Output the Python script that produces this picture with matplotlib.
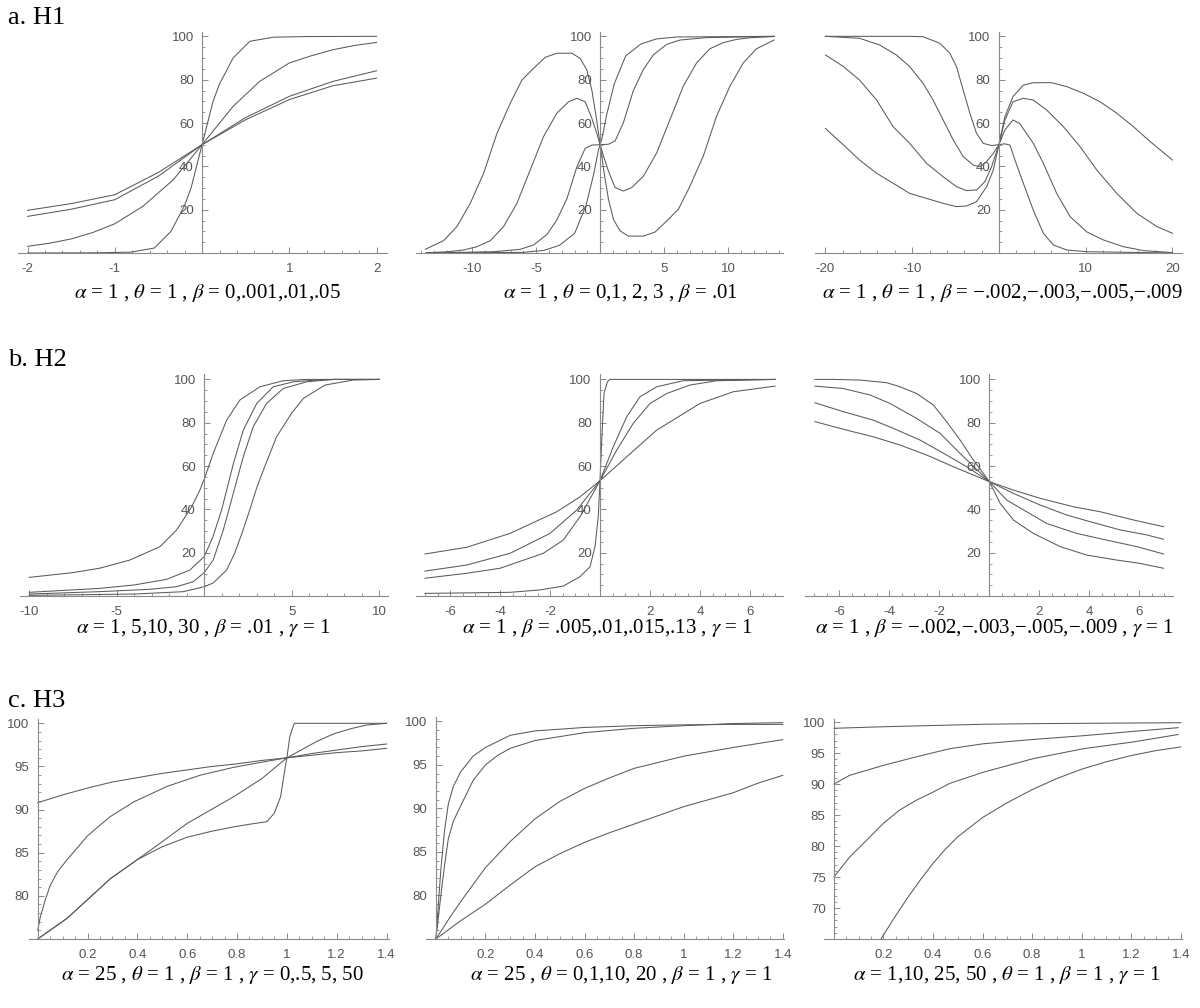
import numpy as np
import matplotlib
matplotlib.use("Agg")
import matplotlib.pyplot as plt
from matplotlib.ticker import FixedLocator, FuncFormatter

plt.rcParams['font.family'] = ['Liberation Sans', 'DejaVu Sans']
plt.rcParams['mathtext.fontset'] = 'stix'

W, H = 1200, 1008

# ---- a. H1 ----
a1_x = [[-2, -1.2, -0.815, -0.547, -0.356, -0.2, -0.126, 0, 0.126, 0.2, 0.356, 0.547, 0.815, 1.2, 2],
        [-2, -1.75, -1.5, -1.25, -1, -0.68, -0.33, 0, 0.356, 0.66, 1.0, 1.25, 1.5, 1.75, 2],
        [-2, -1.5, -1, -0.5, 0, 0.5, 1, 1.5, 2],
        [-2, -1.5, -1, -0.5, 0, 0.5, 1, 1.5, 2]]
a1_y = [[0, 0.1, 0.4, 2.3, 10, 22, 30, 50, 70, 78, 90, 97.7, 99.6, 99.9, 100],
        [3.1, 4.5, 6.5, 9.5, 13.5, 21.5, 33.8, 50, 67.7, 79.2, 87.7, 91, 93.8, 95.8, 97.2],
        [16.9, 20.2, 24.6, 35.5, 50, 62.5, 72.3, 79.2, 84.1],
        [19.7, 22.8, 26.9, 37.2, 50, 61.5, 70.8, 77.2, 80.7]]

a2_x = [[-13.67, -12.24, -11.2, -10.16, -9.11, -8.07, -7.03, -6.12, -5.21, -4.3, -3.39, -2.21, -1.56,
         -1.04, -0.65, -0.31, 0, 0.31, 0.65, 1.04, 1.56, 2.21, 3.39, 4.3, 5.21, 6.12, 7.03, 8.07, 9.11,
         10.16, 11.2, 12.24, 13.6],
        [-13.6, -11.85, -10.68, -9.64, -8.59, -7.55, -6.51, -5.47, -4.43, -3.39, -2.47, -1.82, -1.17,
         -0.65, -0.26, 0, 0.26, 0.65, 1.17, 1.82, 2.47, 3.39, 4.43, 5.47, 6.51, 7.55, 8.59, 9.64, 10.68,
         11.85, 13.6],
        [-13.6, -8.33, -6.25, -5.21, -4.17, -3.39, -2.6, -1.82, -1.17, -0.65, 0, 0.65, 1.17, 1.82, 2.6,
         3.39, 4.17, 5.21, 6.25, 8.33, 13.6],
        [-13.6, -6, -4.4, -3.2, -2.0, -1.1, -0.52, -0.13, 0, 0.13, 0.52, 1.1, 2.0, 3.2, 4.4, 6, 13.6]]
a2_y = [[1.7, 5.7, 12.2, 22.9, 36.8, 55.2, 69.1, 79.8, 85.2, 90.3, 92.2, 92.2, 89.8, 84.5, 75.2, 62.9,
         50, 37.1, 24.8, 15.5, 10.2, 7.8, 7.8, 9.7, 14.8, 20.2, 30.9, 44.8, 63.2, 77.1, 87.8, 94.3, 98.3],
        [0.1, 0.6, 1.4, 2.9, 5.7, 12.2, 22.9, 38.3, 53.7, 64.5, 69.8, 71.4, 69.8, 62.2, 55.2, 50, 44.8,
         37.8, 30.2, 28.6, 30.2, 35.5, 46.3, 61.7, 77.1, 87.8, 94.3, 97.1, 98.6, 99.4, 99.9],
        [0, 0.6, 1.7, 3.7, 8.5, 15.2, 25, 39.8, 48.3, 49.8, 50, 50.2, 51.7, 60.2, 75, 84.8, 91.5, 96.3,
         98.3, 99.4, 100],
        [0, 0.3, 1.2, 3.5, 9, 22, 36, 47.5, 50, 52.5, 64, 78, 91, 96.5, 98.8, 99.7, 100]]

a3_x = [[-20, -10.3, -8.74, -6.8, -5.66, -4.89, -4.12, -3.35, -2.58, -1.81, -0.85, 0, 0.65, 1.27,
         1.85, 2.81, 3.96, 5.12, 6.27, 7.81, 10.1, 20],
        [-20, -16.06, -13.75, -11.82, -10.28, -8.74, -7.59, -6.43, -5.27, -4.12, -2.96, -2.19, -1.42,
         -0.65, 0, 0.69, 1.62, 2.39, 3.96, 5.12, 6.66, 8.2, 10.1, 12.05, 14.36, 16.67, 20],
        [-20, -17.9, -16.06, -14.1, -12.2, -10.28, -8.35, -6.43, -4.89, -3.73, -2.58, -1.62, -0.85, 0,
         0.69, 1.62, 2.81, 3.96, 5.5, 7.43, 9.35, 11.28, 13.59, 15.9, 18.2, 20],
        [-20, -17.9, -16.06, -14.1, -12.2, -10.28, -8.35, -6.43, -4.89, -3.73, -2.58, -1.42, -0.65, 0,
         0.69, 1.62, 2.81, 3.96, 6.08, 7.81, 9.74, 11.66, 13.59, 15.5, 17.44, 20]]
a3_y = [[100, 100, 99.8, 96.8, 92.2, 86, 75.2, 64.5, 55.2, 50.6, 49.6, 50, 50.4, 49.8, 42.9, 32.2,
         19.8, 9.1, 3.7, 1.4, 0.6, 0],
        [100, 99.1, 96, 91.4, 86, 78.3, 70.6, 61.4, 52.2, 44.5, 40.6, 39.8, 42.2, 46, 50, 56.8, 61.4,
         59.8, 50.6, 41.4, 27.5, 16.8, 9.8, 6, 2.9, 1.1, 0.2],
        [91.4, 86, 79.8, 70.6, 58.3, 50.6, 41.4, 35.2, 30.6, 28.8, 29.1, 32.9, 39.8, 50, 61.4, 69.8,
         71.4, 70.6, 66, 58.3, 49.1, 38.3, 27.5, 18.3, 12.2, 9.1],
        [57.5, 49.8, 42.9, 36.8, 32.2, 27.5, 25.2, 22.9, 21.4, 21.7, 23.7, 30.6, 38.3, 50, 62.9, 72.2,
         77.5, 78.6, 78.6, 76.8, 73.7, 69.8, 64.5, 58.3, 51.4, 42.9]]

# ---- b. H2 ----
b1_x = [[-10, -7.5, -6, -4.25, -2.53, -1.58, -0.72, -0.25, 0, 0.51, 1.28, 2.04, 3.18, 4.51, 5.85, 10],
        [-10, -6, -4, -2.15, -0.82, 0, 0.5, 1.0, 1.66, 2.23, 3.0, 3.94, 5.1, 6.4, 7.4, 10],
        [-10, -6, -3.1, -1.58, -0.63, 0, 0.51, 1.09, 1.66, 2.23, 2.8, 3.56, 4.51, 5.85, 7.4, 10],
        [-10, -4, -1.2, 0, 0.51, 1.28, 1.75, 2.2, 2.61, 3.0, 3.37, 4.13, 5, 5.66, 6.9, 8.5, 10]]
b1_y = [[8.6, 10.8, 12.8, 16.6, 22.8, 30.5, 41.2, 48.9, 54, 65.8, 81.2, 90.5, 96.6, 99.4, 100, 100],
        [1.7, 3.5, 5.1, 7.7, 12, 18.2, 27.4, 40, 61, 76.6, 88.9, 96.6, 98.9, 99.7, 100, 100],
        [0.9, 2, 3.1, 4.3, 6.6, 10.8, 16.6, 30.5, 47.4, 64.3, 78.2, 88.9, 95.8, 98.9, 100, 100],
        [0.3, 0.9, 2, 4.3, 6, 12, 20, 30, 40, 50, 58, 73.5, 84.5, 91.2, 97.4, 99.7, 100]]

b2_x = [[-7, -3.6, -2.4, -1.47, -0.8, -0.4, -0.2, -0.07, 0, 0.07, 0.16, 0.3, 0.4, 7],
        [-7, -5.33, -3.6, -1.73, -0.8, 0, 1.07, 2.27, 4, 5.33, 7],
        [-7, -5.33, -3.6, -2, -0.93, 0, 0.67, 1.33, 2, 2.67, 3.6, 4.67, 7],
        [-7, -5.33, -4, -2.27, -1.47, -0.8, 0, 0.53, 1.07, 1.6, 2.27, 3.33, 7]]
b2_y = [[1.2, 1.7, 2.8, 4.6, 8.9, 13.5, 22.8, 36.6, 53.2, 72, 93.5, 99, 100, 100],
        [19.4, 22.5, 28.9, 38.9, 45.8, 53.2, 64.3, 76.6, 88.9, 94.3, 96.9],
        [11.5, 14.3, 19.7, 28.9, 39.7, 53.2, 67.4, 79.7, 88.9, 93.5, 97.4, 99.4, 100],
        [8.2, 10.5, 12.8, 19.7, 25.8, 36.6, 53.2, 68.9, 82.8, 92, 96.6, 99.4, 100]]

b3_x = [[-6.97, -6.24, -5.17, -4.11, -3.57, -2.91, -2.24, -1.71, -1.17, -0.64, 0, 0.43, 0.96, 1.76,
         2.83, 3.89, 5.09, 6, 6.96],
        [-6.97, -5.84, -4.77, -3.97, -2.91, -1.97, -1.17, 0, 0.69, 1.49, 2.29, 3.49, 4.69, 5.89, 6.96],
        [-6.97, -5.84, -4.64, -3.84, -2.77, -1.71, -0.91, 0, 0.96, 2.03, 3.09, 4.03, 5.23, 6.29, 6.96],
        [-6.97, -5.71, -4.64, -3.57, -2.51, -1.44, 0, 0.96, 2.03, 3.36, 4.43, 5.76, 6.96]]
b3_y = [[100, 100, 99.7, 98.5, 96.6, 93.5, 88.2, 80.5, 72, 62.8, 52.8, 42.8, 35.1, 28.9, 22.8, 18.9,
         16.6, 15.1, 12.8],
        [96.9, 95.8, 92.8, 88.9, 82, 75.1, 65.8, 52.8, 44.3, 38.9, 33.5, 28.9, 25.8, 22.8, 19.4],
        [89.2, 85.1, 81.2, 77.4, 72, 65.1, 59.7, 52.8, 47.4, 42, 37.4, 34.3, 30.5, 28.2, 26.2],
        [80.5, 76.6, 73.5, 69.7, 65.1, 59.7, 52.8, 48.9, 45.1, 41.2, 38.9, 35.1, 32]]

# ---- c. H3 ----
c1_x = [[0, 0.118, 0.292, 0.453, 0.6, 0.787, 0.9, 1.0, 1.12, 1.19, 1.26, 1.32, 1.4],
        [0, 0.1, 0.2, 0.3, 0.4, 0.5, 0.6, 0.7, 0.8, 0.9, 1.0, 1.1, 1.2, 1.3, 1.4],
        [0, 0.01, 0.03, 0.05, 0.08, 0.118, 0.16, 0.198, 0.25, 0.292, 0.386, 0.52, 0.654, 0.787, 0.9,
         1.0, 1.1, 1.2, 1.3, 1.4],
        [0, 0.118, 0.292, 0.4, 0.5, 0.6, 0.7, 0.787, 0.85, 0.92, 0.95, 0.975, 0.99, 1.0, 1.012, 1.03, 1.4]]
c1_y = [[75, 77.4, 82, 85.3, 88.4, 91.5, 93.6, 96.0, 97.9, 98.8, 99.4, 99.8, 100],
        [90.8, 91.7, 92.5, 93.2, 93.7, 94.2, 94.6, 95.0, 95.3, 95.7, 96.0, 96.3, 96.6, 96.8, 97.1],
        [76, 77.5, 79.5, 81.2, 82.8, 84.2, 85.6, 86.9, 88.2, 89.2, 90.9, 92.7, 94.0, 94.9, 95.5, 96.0,
         96.5, 96.9, 97.3, 97.6],
        [75, 77.4, 82, 84.2, 85.7, 86.8, 87.5, 88.0, 88.3, 88.6, 89.6, 91.5, 94.3, 96.0, 98.5, 100, 100]]

c2_x = [[0, 0.01, 0.02, 0.035, 0.05, 0.07, 0.1, 0.15, 0.2, 0.3, 0.4, 0.6, 0.8, 1.0, 1.2, 1.4],
        [0, 0.01, 0.02, 0.035, 0.05, 0.07, 0.1, 0.15, 0.2, 0.25, 0.3, 0.4, 0.6, 0.8, 1.0, 1.2, 1.4],
        [0, 0.05, 0.1, 0.2, 0.3, 0.4, 0.5, 0.6, 0.7, 0.8, 0.9, 1.0, 1.2, 1.4],
        [0, 0.1, 0.2, 0.3, 0.4, 0.5, 0.6, 0.7, 0.8, 0.9, 1.0, 1.1, 1.2, 1.3, 1.4]]
c2_y = [[75, 79, 83, 87.5, 90.5, 92.5, 94.2, 96.0, 97.0, 98.4, 98.9, 99.3, 99.5, 99.6, 99.65, 99.65],
        [75, 77.5, 80, 83.5, 86.5, 88.5, 90.3, 93.2, 95.0, 96.1, 96.9, 97.8, 98.7, 99.2, 99.5, 99.75, 99.85],
        [75, 77.2, 79.3, 83.2, 86.2, 88.8, 90.8, 92.3, 93.5, 94.6, 95.3, 96.0, 97.0, 97.9],
        [75, 77.1, 79.0, 81.2, 83.3, 84.8, 86.1, 87.2, 88.2, 89.2, 90.2, 91.0, 91.8, 92.9, 93.8]]

c3_x = [[0, 0.2, 0.4, 0.6, 0.8, 1.0, 1.2, 1.4],
        [0, 0.063, 0.198, 0.333, 0.467, 0.602, 0.804, 1.006, 1.208, 1.39],
        [0, 0.063, 0.131, 0.198, 0.265, 0.333, 0.4, 0.467, 0.602, 0.804, 1.006, 1.208, 1.39],
        [0.15, 0.19, 0.25, 0.3, 0.35, 0.4, 0.45, 0.5, 0.6, 0.7, 0.8, 0.9, 1.0, 1.1, 1.2, 1.3, 1.4]]
c3_y = [[99.0, 99.25, 99.45, 99.65, 99.75, 99.8, 99.85, 99.9],
        [90, 91.4, 93, 94.4, 95.7, 96.5, 97.2, 97.8, 98.5, 99.1],
        [75, 78.2, 80.9, 83.6, 85.8, 87.4, 88.7, 90.1, 91.9, 94.1, 95.7, 96.8, 98],
        [63, 65, 68.8, 71.8, 74.6, 77.2, 79.5, 81.5, 84.6, 87, 89.1, 90.9, 92.4, 93.6, 94.6, 95.4, 96]]

M = '\u2212'
captions = [
    r'$\alpha$ = 1 , $\theta$ = 1 , $\beta$ = 0,.001,.01,.05',
    r'$\alpha$ = 1 , $\theta$ = 0,1, 2, 3 , $\beta$ = .01',
    r'$\alpha$ = 1 , $\theta$ = 1 , $\beta$ = ' + f'{M}.002,{M}.003,{M}.005,{M}.009',
    r'$\alpha$ = 1, 5,10, 30 , $\beta$ = .01 , $\gamma$ = 1',
    r'$\alpha$ = 1 , $\beta$ = .005,.01,.015,.13 , $\gamma$ = 1',
    r'$\alpha$ = 1 , $\beta$ = ' + f'{M}.002,{M}.003,{M}.005,{M}.009' + r' , $\gamma$ = 1',
    r'$\alpha$ = 25 , $\theta$ = 1 , $\beta$ = 1 , $\gamma$ = 0,.5, 5, 50',
    r'$\alpha$ = 25 , $\theta$ = 0,1,10, 20 , $\beta$ = 1 , $\gamma$ = 1',
    r'$\alpha$ = 1,10, 25, 50 , $\theta$ = 1 , $\beta$ = 1 , $\gamma$ = 1',
]
row_labels = ['a. H1', 'b. H2', 'c. H3']

AXC = '#8a8a8a'
LINEC = '#5a5a5a'
TXTC = '#555555'


def fmt(v, pos):
    return '%g' % v


def panel(fig, box, xlim, ylim, xmaj, xstep, ymaj, ystep, xs, ys):
    l, r, t, b = box
    ax = fig.add_axes([l / W, 1 - b / H, (r - l) / W, (b - t) / H])
    for x, y in zip(xs, ys):
        ax.plot(x, y, color=LINEC, lw=0.75)
    ax.set_xlim(xlim)
    ax.set_ylim(ylim)
    for s in ['top', 'right']:
        ax.spines[s].set_visible(False)
    ax.spines['left'].set_position(('data', 0))
    for s in ['left', 'bottom']:
        ax.spines[s].set_color(AXC)
        ax.spines[s].set_linewidth(0.8)
    ax.xaxis.set_major_locator(FixedLocator(xmaj))
    ax.yaxis.set_major_locator(FixedLocator(ymaj))
    x0 = np.ceil(xlim[0] / xstep) * xstep
    y0 = np.ceil(ylim[0] / ystep) * ystep
    ax.xaxis.set_minor_locator(FixedLocator(np.arange(x0, xlim[1], xstep)))
    ax.yaxis.set_minor_locator(FixedLocator(np.arange(y0, ylim[1], ystep)))
    ax.xaxis.set_major_formatter(FuncFormatter(fmt))
    ax.yaxis.set_major_formatter(FuncFormatter(fmt))
    ax.tick_params(which='major', direction='in', length=4, width=0.7, color=AXC,
                   labelsize=9.5, labelcolor=TXTC)
    ax.tick_params(axis='x', which='major', pad=7)
    ax.tick_params(axis='y', which='major', pad=6)
    ax.tick_params(which='minor', direction='in', length=2, width=0.6, color=AXC)
    ax.patch.set_alpha(0)
    return ax


fig = plt.figure(figsize=(12, 10.08), dpi=100)

yt_ab = [20, 40, 60, 80, 100]
panel(fig, (18, 387, 32, 253), (-2.11, 2.12), (0, 102), [-2, -1, 1, 2], 0.2, yt_ab, 5, a1_x, a1_y)
panel(fig, (416, 783, 32, 253), (-14.4, 14.3), (0, 102), [-10, -5, 5, 10], 1, yt_ab, 5, a2_x, a2_y)
panel(fig, (815, 1182, 32, 253), (-21.2, 21.1), (0, 102), [-20, -10, 10, 20], 2, yt_ab, 5, a3_x, a3_y)

panel(fig, (20, 388, 374, 596), (-10.53, 10.5), (0, 102.5), [-10, -5, 5, 10], 1, yt_ab, 5, b1_x, b1_y)
panel(fig, (416, 783, 374, 596), (-7.36, 7.32), (0, 102.5), [-6, -4, -2, 2, 4, 6], 0.5, yt_ab, 5, b2_x, b2_y)
panel(fig, (805, 1173, 374, 596), (-7.37, 7.34), (0, 102.5), [-6, -4, -2, 2, 4, 6], 0.5, yt_ab, 5, b3_x, b3_y)

xt_c = [0.2, 0.4, 0.6, 0.8, 1, 1.2, 1.4]
panel(fig, (29, 389, 719, 939), (-0.035, 1.41), (75, 100.5), xt_c, 0.05, [80, 85, 90, 95, 100], 1, c1_x, c1_y)
panel(fig, (426, 784, 717, 939), (-0.04, 1.405), (75, 100.5), xt_c, 0.05, [80, 85, 90, 95, 100], 1, c2_x, c2_y)
panel(fig, (824, 1182, 719, 939), (-0.04, 1.405), (65, 100.5), xt_c, 0.05, [70, 75, 80, 85, 90, 95, 100], 1, c3_x, c3_y)

cap_pos = [(208, 293), (621, 293), (1002, 293),
           (203, 628), (608, 628), (995, 628),
           (212, 975), (621, 975), (1007, 975)]
for s, (cx, cy) in zip(captions, cap_pos):
    fig.text(cx / W, 1 - cy / H, s, ha='center', va='center', fontsize=15,
             family=['Liberation Serif', 'DejaVu Serif'], color='black')

for s, cy in zip(row_labels, [18, 360, 701]):
    fig.text(8 / W, 1 - cy / H, s, ha='left', va='center', fontsize=19,
             family=['Liberation Serif', 'DejaVu Serif'], color='black')

fig.savefig('out.png', dpi=100)
